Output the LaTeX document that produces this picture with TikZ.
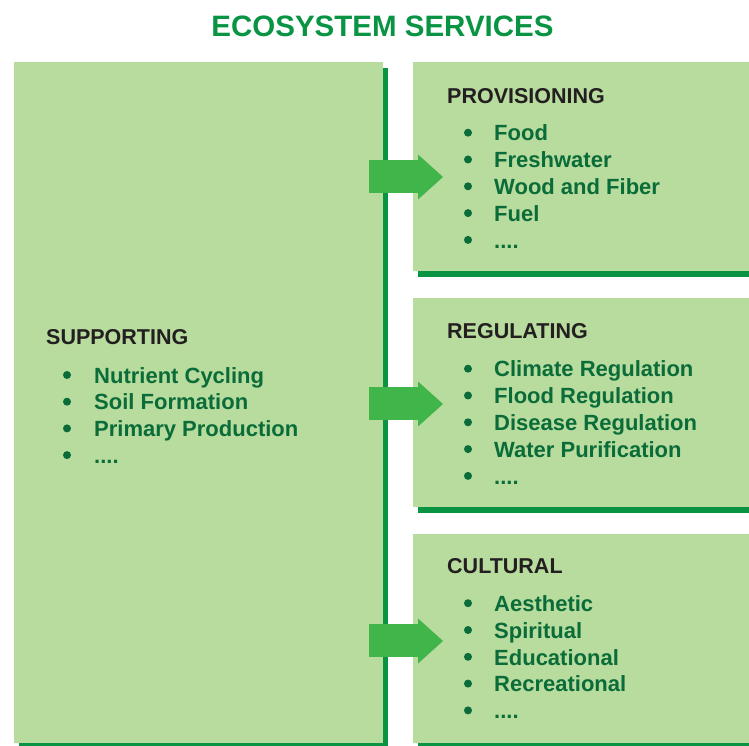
\documentclass[tikz,border=0pt]{standalone}
\usepackage{fontspec}
\setmainfont{Liberation Sans}
\usetikzlibrary{arrows.meta,shadows}
\definecolor{boxgreen}{RGB}{184,219,158}
\definecolor{shadegreen}{RGB}{9,148,68}
\definecolor{arrowgreen}{RGB}{63,181,74}
\definecolor{itemgreen}{RGB}{10,108,56}
\definecolor{headgray}{RGB}{35,31,32}
\newcommand{\fourdots}{....}
\begin{document}
\begin{tikzpicture}[>=latex]
      \tikzstyle{every node}=[inner sep=0pt]
      \tikzstyle{box}=[fill=boxgreen, anchor=north west,
        drop shadow={shadow xshift=5bp, shadow yshift=-6bp, fill=shadegreen, opacity=1}]
      \tikzstyle{title}=[anchor=base, text=shadegreen, font=\bfseries\fontsize{29.5bp}{34bp}\selectfont]
      \tikzstyle{head}=[anchor=base west, text=headgray, font=\bfseries\fontsize{21.5bp}{26bp}\selectfont]
      \tikzstyle{item}=[anchor=base west, text=itemgreen, font=\bfseries\fontsize{22bp}{26bp}\selectfont]
      \tikzstyle{dot}=[circle, fill=itemgreen, minimum size=8bp]
      \tikzstyle{bigarrow}=[draw=arrowgreen, line width=33bp,
        -{Triangle[length=25bp, width=45bp, line width=0pt]}]
      %%
  \useasboundingbox (0bp,0bp) rectangle (749bp,746bp);
  \node (title) at (382.5bp,709bp) [title] {ECOSYSTEM SERVICES};
  %% boxes
  \node (support) at (14bp,684bp) [box, minimum width=369bp, minimum height=681bp] {};
  \node (prov) at (413bp,684bp) [box, minimum width=336bp, minimum height=209bp] {};
  \node (regul) at (413bp,448bp) [box, minimum width=336bp, minimum height=209bp] {};
  \node (cult) at (413bp,212bp) [box, minimum width=336bp, minimum height=209bp] {};
  %% headings
  \node (support_h) at (46bp,401bp) [head] {SUPPORTING};
  \node (prov_h) at (447bp,642.5bp) [head] {PROVISIONING};
  \node (regul_h) at (447bp,407bp) [head] {REGULATING};
  \node (cult_h) at (447bp,172bp) [head] {CULTURAL};
  %% lists
  \foreach \t [count=\i from 0] in {Nutrient Cycling,Soil Formation,Primary Production,\fourdots} {
    \node (support_b\i) at (67bp,371bp-\i*26.7bp) [dot] {};
    \node (support_\i) at (94bp,362.7bp-\i*26.7bp) [item] {\t};
  }
  \foreach \t [count=\i from 0] in {Food,Freshwater,Wood and Fiber,Fuel,\fourdots} {
    \node (prov_b\i) at (468bp,613.3bp-\i*26.8bp) [dot] {};
    \node (prov_\i) at (494bp,605bp-\i*26.8bp) [item] {\t};
  }
  \foreach \t [count=\i from 0] in {Climate Regulation,Flood Regulation,Disease Regulation,Water Purification,\fourdots} {
    \node (regul_b\i) at (468bp,377.3bp-\i*26.8bp) [dot] {};
    \node (regul_\i) at (494bp,369bp-\i*26.8bp) [item] {\t};
  }
  \foreach \t [count=\i from 0] in {Aesthetic,Spiritual,Educational,Recreational,\fourdots} {
    \node (cult_b\i) at (468bp,142.8bp-\i*26.8bp) [dot] {};
    \node (cult_\i) at (494bp,134.5bp-\i*26.8bp) [item] {\t};
  }
  %% arrows
  \coordinate (a1s) at (369bp,569bp);
  \coordinate (a1e) at (443bp,569bp);
  \coordinate (a2s) at (369bp,342bp);
  \coordinate (a2e) at (443bp,342bp);
  \coordinate (a3s) at (369bp,105bp);
  \coordinate (a3e) at (443bp,105bp);
  \draw [bigarrow] (a1s) -- (a1e);
  \draw [bigarrow] (a2s) -- (a2e);
  \draw [bigarrow] (a3s) -- (a3e);
%
\end{tikzpicture}
\end{document}
